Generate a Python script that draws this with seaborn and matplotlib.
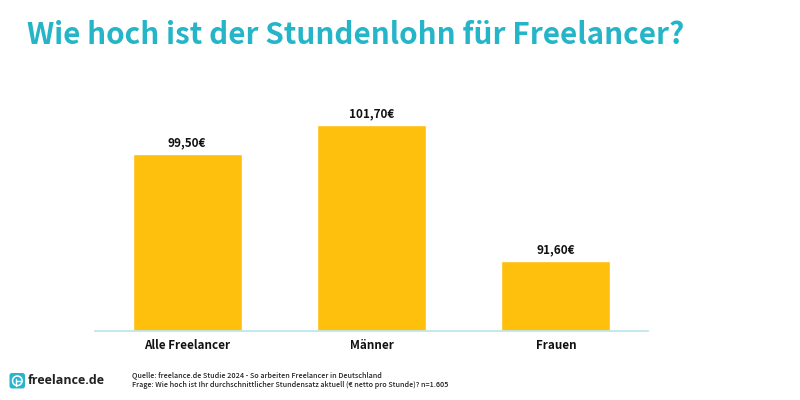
import matplotlib
matplotlib.use("Agg")
import matplotlib.pyplot as plt
from matplotlib.patches import FancyBboxPatch, Circle
import pandas as pd
import seaborn as sns

categories = ["Alle Freelancer", "Männer", "Frauen"]
values = [99.5, 101.7, 91.6]
value_labels = ["99,50€", "101,70€", "91,60€"]
title = "Wie hoch ist der Stundenlohn für Freelancer?"
source = "Quelle: freelance.de Studie 2024 - So arbeiten Freelancer in Deutschland"
question = "Frage: Wie hoch ist Ihr durchschnittlicher Stundensatz aktuell (€ netto pro Stunde)? n=1.605"

sns.set_theme(style="white")
plt.rcParams["font.family"] = ["Noto Sans CJK JP", "DejaVu Sans"]

W, H = 800, 400
fig = plt.figure(figsize=(8, 4), dpi=100, facecolor="white")
ax = fig.add_axes([95 / W, (H - 331) / H, 553 / W, 231 / H])

df = pd.DataFrame({"cat": categories, "val": values})
sns.barplot(data=df, x="cat", y="val", color="#FFBF0D", saturation=1, width=0.592, ax=ax)
ax.set_xlim(-0.5, 2.5)
ax.set_ylim(86.42, 86.42 + 231 / 13.5)
ax.set_xlabel("")
ax.set_ylabel("")
ax.set_yticks([])
ax.tick_params(axis="x", length=0, pad=5.5)
for lab in ax.get_xticklabels():
    lab.set_fontsize(8.4)
    lab.set_fontweight("bold")
    lab.set_color("#111111")
for s in ["top", "left", "right"]:
    ax.spines[s].set_visible(False)
ax.spines["bottom"].set_color("#BFE6EC")
ax.spines["bottom"].set_linewidth(1.3)
ax.patch.set_alpha(0)

for i, (v, t) in enumerate(zip(values, value_labels)):
    ax.annotate(t, (i, v), xytext=(0, 3.5), textcoords="offset points", ha="center", va="bottom",
                fontsize=8.4, fontweight="bold", color="#111111")

fig.text(27 / W, 1 - 35 / H, title, fontsize=21.4, fontweight="bold", color="#25B5C8", va="center", ha="left")
fig.text(132 / W, 1 - 375 / H, source, fontsize=5.2, color="#222222", va="center", ha="left", fontweight="medium")
fig.text(132 / W, 1 - 385 / H, question, fontsize=5.2, color="#222222", va="center", ha="left", fontweight="medium")
fig.text(28 / W, 1 - 381 / H, "freelance.de", fontsize=9, fontweight="bold", family=["Open Sans", "DejaVu Sans"], color="#222222", va="center", ha="left")

overlay = fig.add_axes([0, 0, 1, 1], facecolor="none")
overlay.set_xlim(0, W)
overlay.set_ylim(H, 0)
overlay.axis("off")
overlay.add_patch(FancyBboxPatch((9.5, 373), 15.5, 15.5, boxstyle="round,pad=0,rounding_size=2.5", fc="#2BB4CC", ec="none"))
overlay.add_patch(Circle((17.3, 380.8), 4.8, fc="none", ec="white", lw=1.1))
overlay.plot([15.5, 20.5], [381, 381], color="white", lw=1)
overlay.plot([16, 16], [386, 379], color="white", lw=1)

fig.savefig("out.png", dpi=100)
